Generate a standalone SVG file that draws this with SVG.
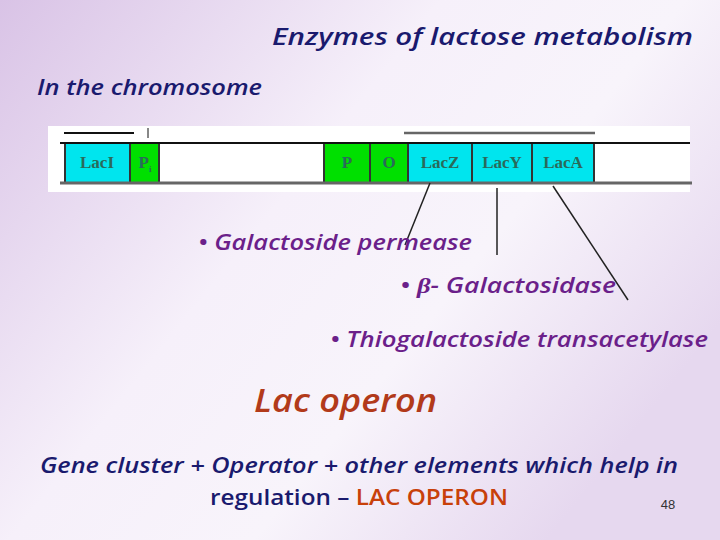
<svg xmlns="http://www.w3.org/2000/svg" width="720" height="540" viewBox="0 0 720 540">
<defs>
<linearGradient id="bg" x1="0" y1="0" x2="1" y2="0.6">
<stop offset="0" stop-color="#d9c3e6"/><stop offset="0.45" stop-color="#f6f0fa"/><stop offset="0.7" stop-color="#f8f4fb"/><stop offset="1" stop-color="#e6d8ef"/>
</linearGradient>
<style>
.t{font-family:"Open Sans","Liberation Sans",sans-serif;font-style:italic;font-weight:600}
.g{font-family:"Liberation Serif",serif;font-size:17px;font-weight:bold;fill:#2a6a5a;text-anchor:middle}
.c{fill:#00e5ee;stroke:#333;stroke-width:2}
.gr{fill:#00e000;stroke:#333;stroke-width:2}
.l{stroke:#222;stroke-width:1.5}
</style>
</defs>
<rect width="720" height="540" fill="url(#bg)"/>
<text class="t" x="272" y="45" font-size="24" fill="#1a1a6e" textLength="421" lengthAdjust="spacingAndGlyphs">Enzymes of  lactose metabolism</text>
<text class="t" x="37" y="95" font-size="22" fill="#1a1a6e" textLength="225" lengthAdjust="spacingAndGlyphs">In the chromosome</text>
<g id="chromosome">
<rect x="48" y="126" width="642" height="66" fill="#fff"/>
<line x1="64" y1="133" x2="134" y2="133" stroke="#111" stroke-width="2"/>
<line x1="148" y1="128" x2="148" y2="138" stroke="#111"/>
<line x1="404" y1="133" x2="595" y2="133" stroke="#666" stroke-width="2.5"/>
<rect x="65" y="143" width="65" height="40" class="c"/>
<rect x="130" y="143" width="29" height="40" class="gr"/>
<rect x="324" y="143" width="46" height="40" class="gr"/>
<rect x="370" y="143" width="38" height="40" class="gr"/>
<rect x="408" y="143" width="64" height="40" class="c"/>
<rect x="472" y="143" width="60" height="40" class="c"/>
<rect x="532" y="143" width="62" height="40" class="c"/>
<line x1="60" y1="143" x2="690" y2="143" stroke="#111" stroke-width="2"/>
<line x1="60" y1="183" x2="692" y2="183" stroke="#666" stroke-width="3"/>
<text class="g" x="97" y="168">LacI</text>
<text class="g" x="145" y="168">P<tspan font-size="9" dy="4">i</tspan></text>
<text class="g" x="347" y="168">P</text>
<text class="g" x="389" y="168">O</text>
<text class="g" x="440" y="168">LacZ</text>
<text class="g" x="502" y="168">LacY</text>
<text class="g" x="563" y="168">LacA</text>
</g>
<g id="connectors">
<line class="l" x1="430" y1="183" x2="405" y2="245"/>
<line class="l" x1="497" y1="188" x2="497" y2="255"/>
<line class="l" x1="553" y1="186" x2="628" y2="300"/>
</g>
<g id="labels" class="t" font-size="21" fill="#6b1f8a">
<text x="198" y="250" textLength="274" lengthAdjust="spacingAndGlyphs">• Galactoside permease</text>
<text x="400" y="293" textLength="216" lengthAdjust="spacingAndGlyphs">• <tspan font-family="Liberation Serif,serif">β</tspan>- Galactosidase</text>
<text x="330" y="347" textLength="378" lengthAdjust="spacingAndGlyphs">• Thiogalactoside transacetylase</text>
</g>
<text class="t" x="254" y="412" font-size="32" fill="#b23a1a" textLength="183" lengthAdjust="spacingAndGlyphs">Lac operon</text>
<text class="t" x="40" y="473" font-size="22" fill="#1a1a6e" textLength="638" lengthAdjust="spacingAndGlyphs">Gene cluster + Operator + other elements which help in</text>
<text x="210" y="505" font-size="22" font-weight="600" fill="#1a1a6e" font-family="Open Sans,Liberation Sans,sans-serif" textLength="298" lengthAdjust="spacingAndGlyphs">regulation – <tspan fill="#c8400a">LAC OPERON</tspan></text>
<text x="668" y="509" font-size="13" fill="#333" text-anchor="middle" font-family="Liberation Sans,sans-serif">48</text>
</svg>
